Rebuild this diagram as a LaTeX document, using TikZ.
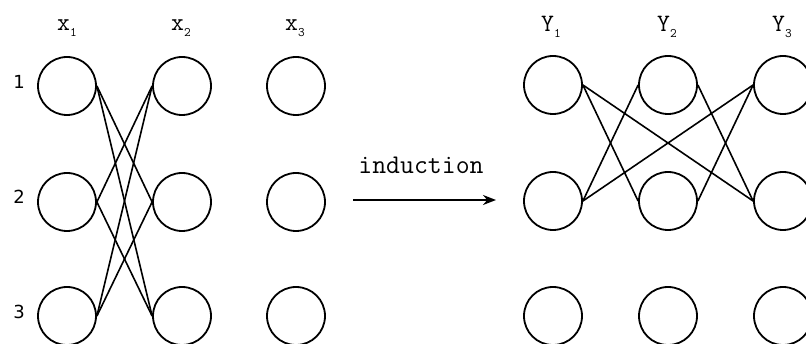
\documentclass[tikz,border=0pt]{standalone}
\usepackage{fontspec}
\newfontfamily\digitfont{DejaVu Sans}
\usetikzlibrary{arrows.meta}
\newcommand{\subdig}[1]{\raisebox{-0.25em}{\fontsize{13}{13}\selectfont #1}}
\tikzset{
  cell/.style={circle,draw,line width=1.8pt,minimum size=58pt,inner sep=0pt},
  link/.style={line width=1.6pt},
  collabel/.style={font=\fontsize{25}{25}\selectfont\ttfamily,inner sep=0pt},
  rowlabel/.style={font=\fontsize{18}{18}\selectfont\digitfont,inner sep=0pt},
}
\begin{document}
\begin{tikzpicture}[x=1pt,y=-1pt]
\useasboundingbox (0,0) rectangle (806,344);
\clip (0,0) rectangle (806,344);
% left grid
\foreach \c/\x in {1/67,2/182,3/296}{
  \foreach \r/\y in {1/86,2/202,3/316}{
    \node[cell] (a\c\r) at (\x,\y) {};
  }
}
% right grid
\foreach \c/\x in {1/553,2/668,3/783}{
  \foreach \r/\y in {1/85,2/201,3/316}{
    \node[cell] (b\c\r) at (\x,\y) {};
  }
}
% column labels
\node[collabel] (lx1) at (67,28) {x\subdig{1}};
\node[collabel] (lx2) at (181,28) {x\subdig{2}};
\node[collabel] (lx3) at (295,28) {x\subdig{3}};
\node[collabel] (ly1) at (551,27) {Y\subdig{1}};
\node[collabel] (ly2) at (667,27) {Y\subdig{2}};
\node[collabel] (ly3) at (782,27) {Y\subdig{3}};
% row labels
\node[rowlabel] (r1) at (19,82) {1};
\node[rowlabel] (r2) at (19,197) {2};
\node[rowlabel] (r3) at (19,312) {3};
% left connections
\draw[link] (a11.east) -- (a22.west);
\draw[link] (a11.east) -- (a23.west);
\draw[link] (a12.east) -- (a21.west);
\draw[link] (a12.east) -- (a23.west);
\draw[link] (a13.east) -- (a21.west);
\draw[link] (a13.east) -- (a22.west);
% right connections
\draw[link] (b11.east) -- (b22.west);
\draw[link] (b11.east) -- (b32.west);
\draw[link] (b12.east) -- (b21.west);
\draw[link] (b12.east) -- (b31.west);
\draw[link] (b21.east) -- (b32.west);
\draw[link] (b22.east) -- (b31.west);
% arrow
\node[font=\fontsize{27}{27}\selectfont\ttfamily,inner sep=0pt] (ind) at (421,165) {induction};
\coordinate (as) at (353,200);
\coordinate (ae) at (496,200);
\draw[line width=1.8pt,-{Stealth[length=13pt,width=10pt]}] (as) -- (ae);
\end{tikzpicture}
\end{document}
